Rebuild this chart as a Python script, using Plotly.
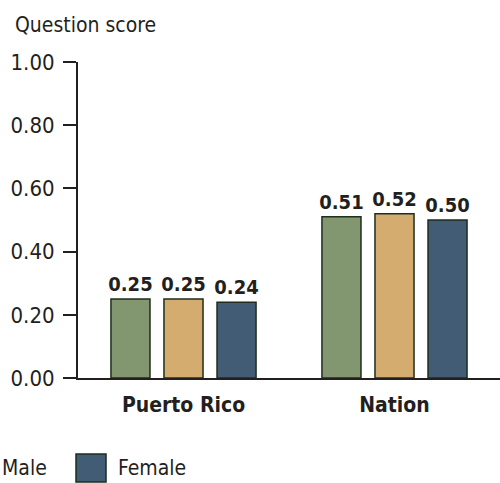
import plotly.graph_objects as go

categories = ["Puerto Rico", "Nation"]
series_names = ["All students", "Male", "Female"]
all_students = [0.25, 0.51]
male = [0.25, 0.52]
female = [0.24, 0.50]
y_ticks = [0.0, 0.2, 0.4, 0.6, 0.8, 1.0]
y_tick_labels = ["0.00", "0.20", "0.40", "0.60", "0.80", "1.00"]

colors = ["#82966F", "#D5AC6F", "#415C74"]
outline = "#1E2D1E"
ink = "#231F20"
FONT = "DejaVu Sans Condensed, Liberation Sans Narrow, sans-serif"

W, H = 500, 483
L, R, T, B = 78, 0, 62, 105
pw, ph = W - L - R, H - T - B

def px_x(p):
    return (p - L) / pw

def px_y(p):
    return (H - B - p) / ph

fig = go.Figure()
for name, vals, col in zip(series_names, [all_students, male, female], colors):
    fig.add_trace(go.Bar(
        x=categories, y=vals, name=name,
        marker=dict(color=col, line=dict(color=outline, width=1.5)),
        texttemplate="%{y:.2f}", textposition="outside",
        textfont=dict(family=FONT, size=20, color=ink, weight="bold"),
        constraintext="none",
        cliponaxis=False, showlegend=False,
    ))

fig.update_layout(
    width=W, height=H,
    margin=dict(l=L, r=R, t=T, b=B, pad=0),
    paper_bgcolor="white", plot_bgcolor="white",
    barmode="group", bargap=0.246, bargroupgap=0.264,
    font=dict(family=FONT, size=21, color=ink),
    xaxis=dict(
        range=[-0.5, 1.5], showline=True, linecolor=ink, linewidth=2,
        ticks="", showgrid=False, zeroline=False,
        tickfont=dict(family=FONT, size=21, color=ink, weight="bold"),
        ticklabelstandoff=7,
    ),
    yaxis=dict(
        range=[0, 1], showline=True, linecolor=ink, linewidth=2,
        ticks="outside", ticklen=13, tickwidth=2, tickcolor=ink,
        tickvals=y_ticks, ticktext=y_tick_labels,
        showgrid=False, zeroline=False,
        tickfont=dict(family=FONT, size=22, color=ink),
        ticklabelstandoff=4,
    ),
)

fig.add_annotation(
    text="Question score", xref="paper", yref="paper",
    x=px_x(13), y=px_y(25), xanchor="left", yanchor="middle",
    showarrow=False, font=dict(family=FONT, size=21, color=ink),
)

# Manual legend (large swatches), anchored so that the blue box sits at ~76px
box_w, box_h, gap_txt = 30, 28, 10
legend_cy = 468
text_widths = [100, 45, 69]
item_gap = 31
x = 76 - (box_w + gap_txt + text_widths[1] + item_gap) - (box_w + gap_txt + text_widths[0] + item_gap)
for name, col, tw in zip(series_names, colors, text_widths):
    fig.add_shape(
        type="rect", xref="paper", yref="paper",
        x0=px_x(x), x1=px_x(x + box_w),
        y0=px_y(legend_cy + box_h / 2), y1=px_y(legend_cy - box_h / 2),
        fillcolor=col, line=dict(color=outline, width=1.5),
    )
    fig.add_annotation(
        text=name, xref="paper", yref="paper",
        x=px_x(x + box_w + gap_txt), y=px_y(legend_cy),
        xanchor="left", yanchor="middle", showarrow=False,
        font=dict(family=FONT, size=21, color=ink),
    )
    x += box_w + gap_txt + tw + item_gap

fig.write_html(
    "out.html",
    config={"displayModeBar": False},
    post_script="document.body.style.margin='0';document.body.style.overflow='hidden';",
)
